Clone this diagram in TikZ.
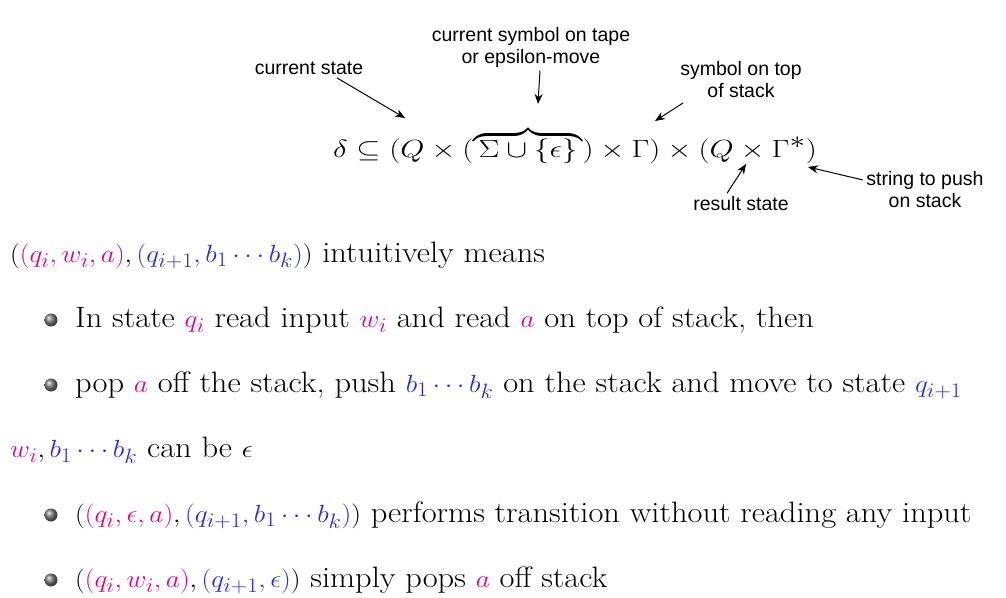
\documentclass[tikz,border=0pt]{standalone}
\usepackage{amsmath}
\usepackage{graphicx}
\usepackage{fontspec}
\newfontfamily\lab{Liberation Sans}
\usetikzlibrary{arrows.meta}
\definecolor{mg}{RGB}{225,0,140}
\definecolor{bl}{RGB}{40,40,235}
\newcommand{\M}[1]{\textcolor{mg}{#1}}
\newcommand{\B}[1]{\textcolor{bl}{#1}}
\newcommand{\WW}[1]{\scalebox{1.1}[1]{#1}}
\begin{document}
\begin{tikzpicture}[x=1pt,y=-1pt,
 lbl/.style={font=\lab\fontsize{19.5}{22}\selectfont,align=center},
 txt/.style={anchor=west,inner sep=0,font=\fontsize{29.5}{34}\selectfont},
 arr/.style={-{Stealth[length=10pt,width=8pt]},line width=1pt}]
\useasboundingbox (0,0) rectangle (1006,597);
\node[inner sep=0,font=\fontsize{36}{40}\selectfont,anchor=west] (f) at (333,147)
 {\scalebox{1.25}[1]{$\delta\subseteq(Q\times(\overbrace{\,\Sigma\cup\{\epsilon\}\,})\times\Gamma)\times(Q\times\Gamma^*)$}};
\node[lbl] (l1) at (531,47) {current symbol on tape\\or epsilon-move};
\node[lbl] (l2) at (309,68) {current state};
\node[lbl] (l3) at (741,80) {symbol on top\\of stack};
\node[lbl] (l4) at (741,204) {result state};
\node[lbl] (l5) at (925,190) {string to push\\on stack};
\coordinate (t1) at (538,104);
\coordinate (t2) at (405,118);
\coordinate (t3) at (655,121);
\coordinate (t4) at (746,164);
\coordinate (t5) at (808,167);
\draw[arr] (l1.south) ++(9,0) -- (t1);
\draw[arr] (l2.south) ++(28,0) -- (t2);
\draw[arr] (683,103) -- (t3);
\draw[arr] (l4.north) ++(-14,0) -- (t4);
\draw[arr] (l5.west) ++(0,-10) -- (t5);
\node[txt] (a) at (10,255) {\WW{$(\M{(q_i,w_i,a)},\B{(q_{i+1},b_1\cdots b_k)})$ intuitively means}};
\node[txt] (b) at (75,320) {\WW{In state $\M{q_i}$ read input $\M{w_i}$ and read $\M{a}$ on top of stack, then}};
\node[txt] (c) at (75,385) {\WW{pop $\M{a}$ off the stack, push $\B{b_1\cdots b_k}$ on the stack and move to state $\B{q_{i+1}}$}};
\node[txt] (d) at (10,450) {\WW{$\M{w_i},\B{b_1\cdots b_k}$ can be $\epsilon$}};
\node[txt] (e) at (75,515) {\WW{$(\M{(q_i,\epsilon,a)},\B{(q_{i+1},b_1\cdots b_k)})$ performs transition without reading any input}};
\node[txt] (g) at (75,580) {\WW{$(\M{(q_i,w_i,a)},\B{(q_{i+1},\epsilon)})$ simply pops $\M{a}$ off stack}};
\foreach \yy in {320,385,515,580} \shade[ball color=gray] (51,\yy) circle (6.5);
\end{tikzpicture}
\end{document}
